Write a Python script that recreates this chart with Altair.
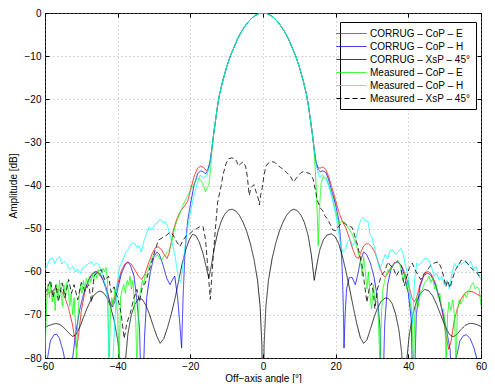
import altair as alt
import pandas as pd

SERIES = ["CORRUG – CoP – E", "CORRUG – CoP – H", "CORRUG – XsP – 45°",
          "Measured – CoP – E", "Measured – CoP – H", "Measured – XsP – 45°"]
COLORS = ["#ff0000", "#0000ff", "#000000", "#00ff00", "#00ffff", "#000000"]
DASHES = [[1, 0], [1, 0], [1, 0], [1, 0], [1, 0], [5, 3]]

X_TICKS = [-60, -40, -20, 0, 20, 40, 60]
Y_TICKS = [-80, -70, -60, -50, -40, -30, -20, -10, 0]

# main beam shared by the co-polar curves (deg, dB)
beam = [(-14, -31), (-13.5, -27.5), (-13, -24.5), (-12.5, -21.5), (-12, -19), (-11, -15.5),
        (-10, -12.5), (-9, -10), (-8, -8), (-7, -6), (-6, -4.4), (-5, -3.1), (-4, -2),
        (-3, -1.1), (-2, -0.5), (-1, -0.1), (0, 0), (1, -0.1), (2, -0.5), (3, -1.1),
        (4, -2), (5, -3.1), (6, -4.4), (7, -6), (8, -8), (9, -10), (10, -12.5),
        (11, -15.5), (12, -19), (12.5, -21.5), (13, -24.5), (13.5, -27.5), (14, -31)]

red_left = [(-60, -65.5), (-59, -65), (-58, -64.5), (-57.2, -64.2), (-56.4, -64.1), (-55.5, -64.5),
            (-54.5, -66), (-53.5, -68.5), (-52.5, -72), (-51.8, -75.5), (-51.3, -77.7), (-50.8, -75),
            (-50, -69), (-49, -64.5), (-48, -61.8), (-47, -60.4), (-46, -59.9), (-45, -60.3),
            (-44, -61.8), (-43, -64), (-42.2, -66.8), (-41.7, -67.9), (-41, -66.5), (-40, -62.8),
            (-39, -59.8), (-38, -58.2), (-37.2, -57.7), (-36.3, -58.2), (-35.3, -59.5), (-34.3, -61),
            (-33.4, -61.8), (-32.5, -60.5), (-31.5, -58), (-30.5, -55.8), (-29.7, -54.5), (-28.9, -54.2),
            (-28, -54.8), (-27.2, -56), (-26.4, -56.9), (-25.8, -55.5), (-25.2, -53), (-24.7, -50.5),
            (-23.8, -48), (-22.9, -46.2), (-21.8, -45), (-20.7, -43.6), (-19.8, -40.5), (-18.8, -37.5),
            (-18, -36), (-17.2, -35.5), (-16.4, -35.8), (-15.6, -36.5), (-15, -36), (-14.5, -34.5)]
red_right = [(14.5, -34.5), (15, -35.8), (15.7, -36), (16.5, -35.7), (17.3, -36.3), (18, -37.8),
             (19, -40.5), (20, -43.5), (21, -46.5), (22, -48.6), (22.8, -49.8), (23.7, -52),
             (24.6, -54.5), (25.5, -56.5), (26.3, -56.9), (27, -55.3), (27.7, -54), (28.4, -53.5),
             (29, -53.5), (29.9, -54.2), (30.8, -55.5), (31.8, -58), (32.7, -60.3), (33.5, -61.2),
             (34.3, -60.5), (35.2, -59), (36.1, -58), (37.1, -57.7), (38.1, -58.5), (39.1, -60.5),
             (40.2, -63.5), (41, -66), (41.6, -67), (42.3, -66), (43.2, -63), (44.2, -60.8),
             (45.3, -59.9), (46.3, -60.5), (47.4, -62.5), (48.5, -66), (49.5, -70), (50.4, -75),
             (51.1, -78), (51.8, -76), (52.6, -71.5), (53.5, -68.5), (54.5, -66.3), (55.5, -65),
             (56.5, -64.5), (57.5, -64.6), (58.5, -65), (59.5, -65.5), (60, -65.7)]

blue_left = [(-60, -88), (-59.3, -80), (-58.5, -76), (-57.5, -74.6), (-56.8, -74.5), (-56, -75.5),
             (-55, -78.5), (-54.2, -82), (-53.5, -95), (-52.7, -82), (-51.5, -74), (-50.5, -69),
             (-49.5, -65.5), (-48.5, -63), (-47.5, -61.2), (-46.5, -60.2), (-46, -60), (-45, -60.5),
             (-44, -62), (-43, -64.5), (-42, -67.5), (-41.5, -68.2), (-40.8, -67), (-40, -64),
             (-39, -60.5), (-38, -58.5), (-37.2, -57.8), (-36.5, -58.5), (-35.5, -61), (-34.8, -66),
             (-34, -73), (-33.3, -95), (-32.6, -75), (-32, -66), (-31, -60), (-30, -56.5),
             (-29.2, -55.4), (-28.5, -56), (-27.5, -58.5), (-26.5, -61.5), (-25.6, -63), (-25, -62),
             (-24.3, -61), (-23.5, -66), (-22.9, -72), (-22.4, -77.7), (-22, -66), (-21.5, -56),
             (-21, -50.5), (-20.7, -48), (-20, -44.5), (-19, -40), (-18, -37.3), (-17.2, -36.6),
             (-16.5, -36.8), (-15.8, -37.3), (-15.2, -36.5), (-14.6, -34.5)]
blue_right = [(14.6, -34.5), (15.2, -36.3), (15.8, -36.8), (16.5, -36.6), (17.3, -37), (18, -38.5),
              (19, -41.5), (20, -44.5), (20.9, -48.2), (21.4, -53), (21.8, -59.5), (22.1, -68),
              (22.3, -77.7), (22.6, -70), (23, -64), (23.7, -61.4), (24.5, -61.3), (25.4, -63),
              (26, -61), (26.8, -57.5), (27.7, -55.4), (28.5, -56), (29.5, -57.8), (30.5, -61),
              (31.5, -66), (32.2, -73), (32.8, -95), (33.5, -72), (34.3, -63), (35.2, -59.5),
              (36.2, -58), (37, -57.7), (38, -58.5), (39, -61), (40, -65), (40.8, -71), (41.4, -95),
              (42.2, -70), (43.2, -63.5), (44.2, -61), (45.2, -60.3), (46.2, -60.8), (47.2, -62.5),
              (48.5, -66), (49.5, -69.5), (50.5, -73.5), (51.5, -78), (52.4, -95), (53.2, -80),
              (54.2, -76), (55.2, -74.8), (56, -74.6), (57, -75.5), (58, -77.5), (58.8, -80),
              (59.3, -95), (60, -85)]

corrug_xsp = [(-60, -72.9), (-59, -72.5), (-58, -72.2), (-57, -72.0), (-56, -72.2), (-55, -72.8),
              (-54, -73.7), (-53, -74.6), (-52.4, -75.0), (-51.5, -74.6), (-50.5, -73.0), (-49.5, -70.8),
              (-48.5, -68.6), (-47.5, -66.8), (-46.5, -65.4), (-45.5, -64.7), (-44.8, -64.5), (-44, -64.8),
              (-43, -65.9), (-42, -68.0), (-41, -71.2), (-40, -75.8), (-39.3, -81), (-38.6, -95),
              (-38, -82), (-37.2, -74.5), (-36.3, -70.2), (-35.3, -67.6), (-34.2, -66.2), (-33.2, -66.4),
              (-32.2, -67.8), (-31.2, -70.0), (-30.2, -72.6), (-29.2, -75.0), (-28.3, -76.6), (-27.3, -75.5),
              (-26.3, -73.0), (-25.3, -70.0), (-24.3, -66.5), (-23.3, -62.5), (-22.3, -58.3), (-21.3, -55.0),
              (-20.3, -52.6), (-19.4, -51.3), (-18.5, -51.6), (-17.5, -53.2), (-16.5, -55.8), (-15.6, -59.0),
              (-14.9, -61.5), (-14.2, -58.5), (-13.4, -54.5), (-12.5, -51.0), (-11.5, -48.3), (-10.5, -46.6),
              (-9.5, -45.7), (-8.5, -45.5), (-7.5, -45.9), (-6.5, -46.9), (-5.5, -48.5), (-4.5, -50.6),
              (-3.5, -53.4), (-2.5, -57.0), (-1.5, -62.0), (-0.8, -68), (-0.3, -77), (0, -100),
              (0.3, -77), (0.8, -68), (1.5, -62), (2.5, -57), (3.5, -53.4), (4.5, -50.6), (5.5, -48.5),
              (6.5, -46.9), (7.5, -45.9), (8.4, -45.5), (9.4, -45.8), (10.4, -46.8), (11.4, -48.6),
              (12.4, -51.5), (13.3, -56), (14.1, -62), (14.8, -58.5), (15.6, -55), (16.6, -52.6),
              (17.6, -51.5), (18.8, -51.2), (19.8, -51.8), (20.8, -53.4), (21.8, -56.2), (22.8, -59.8),
              (23.8, -63.8), (24.8, -68), (25.8, -72), (26.8, -75.3), (27.7, -76.6), (28.6, -75.8),
              (29.6, -73.2), (30.6, -70.5), (31.6, -68.2), (32.6, -66.8), (33.6, -66.1), (34.5, -66.2),
              (35.5, -67.3), (36.5, -69.8), (37.4, -73.5), (38.2, -79), (38.8, -95), (39.4, -82),
              (40.2, -75), (41.2, -70), (42.2, -67), (43.3, -65), (44.5, -64.1), (45.6, -64.4),
              (46.7, -65.6), (47.8, -67.6), (49, -70.2), (50.2, -72.8), (51.3, -74.5), (52.3, -75.1),
              (53.3, -74.6), (54.5, -73.4), (55.7, -72.4), (56.8, -72), (57.8, -72), (59, -72.3),
              (60, -72.7)]

green_left = [(-60, -80), (-59.6, -68), (-59.2, -63), (-58.8, -66), (-58.4, -62.5), (-58, -67),
              (-57.6, -64), (-57.2, -69), (-56.8, -63), (-56.4, -66), (-56, -62), (-55.6, -65),
              (-55.2, -68), (-54.8, -63), (-54.4, -66), (-54, -62.5), (-53.6, -64), (-53.2, -68),
              (-52.8, -65), (-52.4, -70), (-52, -66), (-51.6, -72), (-51.3, -82), (-51, -72),
              (-50.6, -66), (-50.2, -63), (-49.8, -65), (-49.4, -62), (-49, -64), (-48.6, -61.5),
              (-48.2, -63), (-47.8, -61), (-47.4, -62.5), (-47, -60.5), (-46.6, -62), (-46.2, -60),
              (-45.8, -61.5), (-45.4, -59.5), (-45, -61), (-44.5, -60), (-44, -59.2), (-43.6, -60),
              (-43.2, -59), (-42.8, -62), (-42.4, -82), (-42, -70), (-41.6, -66), (-41.2, -68),
              (-40.8, -64), (-40.4, -66.5), (-40, -70), (-39.6, -82), (-39.2, -66), (-38.7, -64),
              (-38.3, -63), (-37.9, -65), (-37.4, -62), (-37, -63), (-36.6, -61), (-36.2, -64),
              (-35.8, -62), (-35.4, -67), (-35, -72), (-34.7, -82), (-34.3, -70), (-34, -66),
              (-33.6, -64), (-33.2, -62), (-32.8, -63), (-32.4, -60.5), (-32, -61), (-31.5, -59),
              (-31, -58), (-30.5, -56.5), (-30, -56), (-29.5, -56.5), (-29, -56), (-28.5, -57),
              (-27.9, -57.3), (-27.4, -56.5), (-26.9, -56.2), (-26.4, -55.5), (-25.8, -55),
              (-25.2, -53.5), (-24.7, -51.5), (-24.3, -49.7), (-23.8, -48.5), (-22.9, -46.5),
              (-22, -44.5), (-21.1, -43), (-20.2, -41.5), (-19.3, -40.2), (-18.6, -39), (-18, -38.3),
              (-17.3, -38.6), (-16.6, -39.5), (-15.8, -41.4), (-15.3, -40.5), (-14.9, -39.8),
              (-14.4, -36)]
green_right = [(14.5, -38), (15, -48), (15.2, -54), (15.5, -46), (16, -39.5), (16.5, -38),
               (17.4, -38.3), (18.2, -40), (19, -42.5), (20, -46), (20.9, -49), (21.8, -48.2),
               (22.7, -48.8), (23.6, -50), (24.5, -51.2), (25.4, -53), (26.3, -55.8), (26.8, -57),
               (27.3, -61), (27.7, -56.5), (28.1, -59.5), (28.6, -64), (29, -60), (29.5, -66),
               (29.9, -68.6), (30.4, -63), (30.9, -67), (31.4, -65), (31.8, -72), (32.2, -82),
               (32.6, -70), (33, -64), (33.5, -62), (34, -60.5), (34.4, -59.5), (34.9, -60),
               (35.4, -58.8), (35.8, -58.4), (36.4, -58), (37.1, -57.3), (37.6, -58), (38, -59.5),
               (38.5, -62), (39, -60.5), (39.5, -64), (40, -62), (40.5, -67), (41, -70), (41.4, -82),
               (41.8, -70), (42.3, -66), (42.8, -68), (43.4, -64.5), (43.9, -64.1), (44.5, -62.5),
               (45.2, -61.8), (45.7, -61), (46.2, -62.5), (46.7, -61.5), (47.2, -64), (47.7, -63),
               (48.2, -66), (48.7, -65), (49.2, -69), (49.7, -68.6), (50.1, -72), (50.4, -82),
               (50.8, -70), (51.2, -67), (51.7, -69), (52.2, -66.5), (52.7, -70), (53.1, -82),
               (53.5, -69), (54, -66.5), (54.5, -67.5), (55, -66.4), (55.5, -65), (56, -66),
               (56.5, -64.5), (56.9, -64.1), (57.4, -63), (57.9, -62.6), (58.4, -64), (58.9, -63.5),
               (59.5, -64.1), (60, -67.9)]

cyan_left = [(-60, -59.5), (-59.4, -58.5), (-58.8, -57.2), (-58, -56.8), (-57.3, -58), (-56.6, -56.9),
             (-56, -56.5), (-55.4, -58.2), (-54.7, -57.6), (-54, -58.3), (-53.2, -59.5), (-52.4, -58.8),
             (-51.7, -60), (-51, -59.5), (-50.3, -60.3), (-49.5, -59), (-48.7, -58.6), (-47.9, -58),
             (-47.2, -57.7), (-46.5, -58.6), (-45.8, -57.9), (-45.2, -58.4), (-44.4, -60), (-43.6, -62.5),
             (-42.8, -66), (-42.3, -82), (-41.4, -82), (-40.8, -72), (-40.2, -63), (-39.5, -59),
             (-38.6, -57.3), (-37.8, -55.6), (-37.1, -54.8), (-36.3, -53.5), (-35.5, -53.3), (-34.8, -54.2),
             (-34.1, -54), (-33.5, -55.4), (-32.8, -53), (-32, -51), (-31.3, -49.7), (-30.6, -50.3),
             (-29.9, -49.2), (-29.1, -48.7), (-28.3, -47.8), (-27.6, -48.6), (-26.9, -48.4), (-26.3, -49.3),
             (-25.6, -51.5), (-24.8, -54), (-24.1, -57), (-23.4, -61), (-22.6, -62.5), (-22, -58),
             (-21.2, -52.5), (-20.3, -47.5), (-19.3, -43.5), (-18.3, -40), (-17.3, -37.6), (-16.4, -38.2),
             (-15.5, -37.8), (-14.7, -35.5)]
cyan_right = [(14.7, -35.5), (15.5, -38), (16.5, -37.6), (17.3, -38.5), (18.2, -40.5), (19.2, -43.5),
              (20.2, -47.5), (21.3, -53.5), (22, -55.5), (22.6, -55), (23.3, -53), (24, -52.5),
              (24.7, -54), (25.4, -53), (26.2, -50), (26.9, -48), (27.6, -47.4), (28.2, -48.3),
              (28.9, -48.2), (29.4, -51.2), (30, -52), (30.7, -54.5), (31.4, -57), (32.1, -59.5),
              (32.8, -58), (33.6, -56), (34.3, -57), (35, -55), (35.8, -55), (36.5, -56), (37.2, -55.4),
              (38, -54.6), (38.6, -56), (39.2, -58.5), (39.9, -61), (40.6, -66), (41.2, -72),
              (41.7, -62), (42.3, -58), (43, -58.5), (43.7, -57.7), (44.4, -57), (45, -56.9),
              (45.7, -57.5), (46.4, -59), (47.1, -61), (47.8, -60.3), (48.5, -62), (49.2, -61),
              (49.9, -63), (50.6, -62), (51.3, -64), (51.9, -61), (52.7, -58), (53.4, -59), (54, -58),
              (54.8, -58.3), (55.8, -57.3), (56.5, -58.5), (57.2, -57.5), (57.9, -59.5), (58.6, -58.8),
              (59.3, -60.5), (60, -61.8)]

meas_xsp = [(-60, -65), (-59.5, -64.1), (-58.5, -62), (-57.8, -66), (-57, -63), (-56.3, -67),
            (-55.3, -62.6), (-54.5, -66), (-53.5, -61.8), (-52.7, -65), (-52, -63), (-51, -66.5),
            (-50, -62.5), (-49, -64.5), (-48, -63), (-47.2, -67.1), (-46.5, -61), (-45.5, -60),
            (-44.5, -59.5), (-43.5, -62), (-42.5, -61), (-41.8, -64.8), (-41, -63.5), (-40, -66),
            (-39.1, -69.4), (-38.2, -75.5), (-37.5, -72), (-36.5, -69.5), (-35.5, -66), (-34.7, -64.1),
            (-34, -67), (-33.2, -63.5), (-32.4, -62.6), (-31, -58.8), (-29.7, -55), (-28.8, -52.7),
            (-27.5, -52), (-26.5, -51.5), (-25.6, -50.8), (-24.7, -51.5), (-23.8, -53), (-22.9, -54.2),
            (-22, -52.7), (-21, -51.5), (-20.2, -51.2), (-19.3, -50.5), (-18.3, -50), (-17.3, -49.5),
            (-16.5, -49.5), (-15.8, -52.7), (-15.1, -60), (-14.5, -66.4), (-14, -60), (-13.5, -54.2),
            (-13, -49), (-12.5, -44), (-11.5, -40), (-11, -37.5), (-10.2, -35), (-9.5, -33.8),
            (-8.6, -33.6), (-7.7, -33.8), (-7.2, -34.5), (-6.8, -35.5), (-6.2, -35), (-5.5, -34.5),
            (-4.8, -35.5), (-4.3, -38), (-3.8, -42.3), (-3.3, -40.5), (-2.5, -39.8), (-1.9, -41.5),
            (-1.3, -43), (-1, -44.5), (-0.6, -42), (-0.2, -40.5), (0.3, -37.5), (0.8, -35.5),
            (1.5, -34.8), (2.5, -34.5), (3.2, -34.6), (4, -35.3), (4.8, -35.8), (5.7, -36.3),
            (6.5, -37), (7.5, -37.8), (8.4, -39.2), (9, -38.5), (9.8, -37.6), (10.5, -37),
            (11.1, -36.8), (12, -37), (12.9, -37.2), (13.8, -38.5), (14.4, -41), (15, -43.6),
            (16, -45.5), (16.5, -45.9), (17, -47), (17.8, -47.8), (18.5, -49), (19.2, -50.3),
            (20, -50.5), (20.8, -49.5), (21.5, -48.8), (22.3, -48.6), (23.2, -49.3), (24.5, -49.7),
            (25.2, -51.5), (25.9, -53.5), (26.6, -56), (27.2, -58.4), (27.8, -62), (28.6, -67.1),
            (29.2, -64), (29.9, -62.6), (30.4, -65), (30.8, -68.6), (31.5, -64), (32.5, -61),
            (33.5, -59.9), (34.4, -57.7), (35, -58.5), (35.8, -59), (36.7, -61), (37.3, -60),
            (38, -59.5), (38.5, -61.5), (38.9, -63.3), (39.6, -61), (40.3, -59), (41.1, -58),
            (41.8, -59.5), (42.5, -60.5), (43.4, -61.8), (44.3, -60.5), (45.3, -59.5), (46.2, -58.5),
            (47, -58), (48.3, -57.7), (49, -59), (49.7, -61), (50.3, -63.5), (50.8, -62),
            (51.5, -63.7), (52.2, -61.5), (53, -59.5), (53.8, -58.5), (54.6, -57.3), (55.4, -57.5),
            (56.2, -58), (57, -58.8), (57.7, -59.5), (58.6, -60), (59.5, -61), (60, -61.5)]

curves = [
    red_left + beam + red_right,
    blue_left + beam + blue_right,
    corrug_xsp,
    green_left + beam + green_right,
    cyan_left + beam + cyan_right,
    meas_xsp,
]

rows = []
for name, pts in zip(SERIES, curves):
    for i, (xv, yv) in enumerate(pts):
        rows.append({"series": name, "x": xv, "y": yv, "i": i})
df = pd.DataFrame(rows)
frame_df = pd.DataFrame({"x": [-60, 60], "y": [-80, 0]})

FONT = "Liberation Sans"
xscale = alt.Scale(domain=[-60, 60], nice=False, zero=False)
yscale = alt.Scale(domain=[-80, 0], nice=False, zero=False)

legend = alt.Legend(title=None, orient="none", legendX=295, legendY=9,
                    symbolType="M-2.5,0L2.5,0", symbolSize=144, symbolStrokeWidth=1,
                    labelFont=FONT, labelFontSize=10, labelColor="black",
                    labelOffset=12, rowPadding=1, padding=5,
                    strokeColor="black", fillColor="white", cornerRadius=0)

lines = alt.Chart(df).mark_line(strokeWidth=0.8, clip=True).encode(
    x=alt.X("x:Q", scale=xscale,
            axis=alt.Axis(values=X_TICKS, title="Off−axis angle [°]", grid=True,
                          gridDash=[1, 3], gridColor="#8c8c8c", gridWidth=0.7,
                          domain=False, tickSize=4, offset=-4, labelPadding=3,
                          labelFlush=False, tickColor="black", titlePadding=2)),
    y=alt.Y("y:Q", scale=yscale,
            axis=alt.Axis(values=Y_TICKS, title="Amplitude [dB]", grid=True,
                          gridDash=[1, 3], gridColor="#8c8c8c", gridWidth=0.7,
                          domain=False, tickSize=4, offset=-4, labelPadding=4,
                          labelFlush=False, tickColor="black", titlePadding=6)),
    color=alt.Color("series:N", scale=alt.Scale(domain=SERIES, range=COLORS), legend=legend),
    strokeDash=alt.StrokeDash("series:N", scale=alt.Scale(domain=SERIES, range=DASHES), legend=legend),
    order=alt.Order("i:Q"),
)

frame = alt.Chart(frame_df).mark_point(opacity=0, size=0, strokeWidth=0).encode(
    x=alt.X("x:Q", scale=xscale,
            axis=alt.Axis(orient="top", values=X_TICKS, labels=False, title=None, grid=False,
                          domain=False, tickSize=4, offset=-4, tickColor="black",
                          minExtent=0, labelPadding=0)),
    y=alt.Y("y:Q", scale=yscale,
            axis=alt.Axis(orient="right", values=Y_TICKS, labels=False, title=None, grid=False,
                          domain=False, tickSize=4, offset=-4, tickColor="black",
                          minExtent=0, labelPadding=0)),
)

chart = alt.layer(lines, frame).resolve_axis(x="independent", y="independent").properties(
    width=479, height=375, background="white", padding=0,
    autosize=alt.AutoSizeParams(type="fit", contains="padding"),
).configure_view(stroke="black", strokeWidth=1).configure_axis(
    labelFont=FONT, titleFont=FONT, labelFontSize=10, titleFontSize=10,
    titleFontWeight="normal", labelColor="black", titleColor="black"
)

chart.save("out.html", embed_options={"renderer": "svg", "actions": False})
